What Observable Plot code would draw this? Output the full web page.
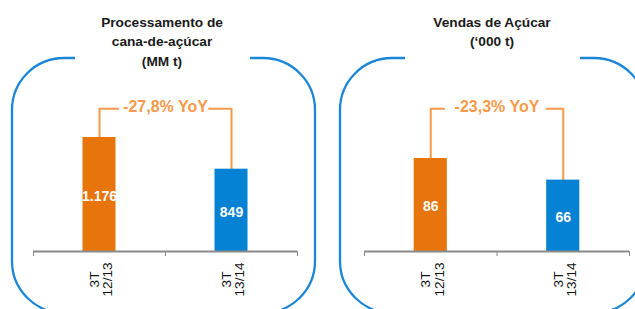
<!DOCTYPE html>
<html>
<head>
<meta charset="utf-8">
<script src="https://cdn.jsdelivr.net/npm/d3@7"></script>
<script src="https://cdn.jsdelivr.net/npm/@observablehq/plot@0.6"></script>
<style>
  html, body { margin: 0; padding: 0; background: #fff; }
  #root { position: relative; width: 635px; height: 309px; overflow: hidden; background: #fff;
          font-family: "Liberation Sans", Arial, sans-serif; }
  .title { position: absolute; width: 260px; text-align: center; font-weight: bold;
           font-size: 13.7px; line-height: 19.5px; color: #1a1a1a; }
</style>
</head>
<body>
<div id="root"></div>
<script>
// ---- data ----
const periods = ["3T\n12/13", "3T\n13/14"];
const canaTitle = ["Processamento de", "cana-de-açúcar", "(MM t)"];
const canaValues = [1176, 849];
const canaLabels = ["1.176", "849"];
const canaChange = "-27,8% YoY";
const acucarTitle = ["Vendas de Açúcar", "(‘000 t)"];
const acucarValues = [86, 66];
const acucarLabels = ["86", "66"];
const acucarChange = "-23,3% YoY";

// ---- styles ----
const barColors = ["#E8740C", "#0582D3"];
const bracketColor = "#F7994A";
const frameColor = "#1A86D8";
const axisColor = "#8A8A8A";
const font = "Liberation Sans, Arial, sans-serif";

const root = document.getElementById("root");

// decorative rounded frames
const ns = "http://www.w3.org/2000/svg";
const fsvg = document.createElementNS(ns, "svg");
fsvg.setAttribute("width", 635); fsvg.setAttribute("height", 309);
fsvg.style.position = "absolute"; fsvg.style.left = "0"; fsvg.style.top = "0";
function framePath(x0, x1, top, bottom, r, gap0, gap1) {
  return `M${gap1},${top} H${x1 - r} A${r},${r} 0 0 1 ${x1},${top + r} V${bottom - r} A${r},${r} 0 0 1 ${x1 - r},${bottom} H${x0 + r} A${r},${r} 0 0 1 ${x0},${bottom - r} V${top + r} A${r},${r} 0 0 1 ${x0 + r},${top} H${gap0}`;
}
for (const d of [framePath(12, 315, 58, 313, 52, 75, 250), framePath(340, 646, 58, 313, 52, 405, 580)]) {
  const p = document.createElementNS(ns, "path");
  p.setAttribute("d", d); p.setAttribute("fill", "none");
  p.setAttribute("stroke", frameColor); p.setAttribute("stroke-width", 2.3);
  fsvg.appendChild(p);
}
root.appendChild(fsvg);

function panel({values, labels, change, left, width, marginLeft, marginRight, yMax, halo}) {
  const table = periods.map((p, i) => ({i, period: p, value: values[i], label: labels[i]}));
  const L = yMax * 0.748;
  const bracket = [
    {x: 0, y: values[0]}, {x: 0, y: L}, {x: 1, y: L}, {x: 1, y: values[1]}
  ];
  const chart = Plot.plot({
    width, height: 309,
    marginLeft, marginRight, marginTop: 60, marginBottom: 58,
    style: {background: "transparent", overflow: "visible", fontFamily: font},
    x: {type: "linear", domain: [-0.5, 1.5]},
    y: {domain: [0, yMax], axis: null},
    marks: [
      Plot.line(bracket, {x: "x", y: "y", stroke: bracketColor, strokeWidth: 2}),
      Plot.rectY(table, {x1: d => d.i - 0.125, x2: d => d.i + 0.125, y: "value",
                         fill: d => barColors[d.i]}),
      Plot.text([change], {x: 0.5, y: L, text: d => d, fill: bracketColor, stroke: "white",
                           strokeWidth: halo, fontSize: 16, fontWeight: "bold", dy: -1.5}),
      Plot.text(table, {x: "i", y: d => d.value / 2, text: "label", fill: "white",
                        fontSize: 14, fontWeight: "bold", dy: 2}),
      Plot.ruleY([0], {stroke: axisColor, strokeWidth: 2}),
      Plot.axisX({ticks: [-0.5, 0.5, 1.5], tickSize: 5, tickFormat: () => "", stroke: axisColor}),
      Plot.text(table, {x: "i", y: 0, text: "period", rotate: -90, textAnchor: "middle",
                        dy: 28, dx: 2, fontSize: 13.5, lineHeight: 0.98, fill: "#111"})
    ]
  });
  chart.style.position = "absolute";
  chart.style.left = left + "px";
  chart.style.top = "0px";
  root.appendChild(chart);
}

panel({values: canaValues, labels: canaLabels, change: canaChange,
       left: 0, width: 320, marginLeft: 33, marginRight: 23, yMax: 1970, halo: 9});
panel({values: acucarValues, labels: acucarLabels, change: acucarChange,
       left: 320, width: 315, marginLeft: 44, marginRight: 6, yMax: 176.6, halo: 20});

function title(lines, cx) {
  const d = document.createElement("div");
  d.className = "title";
  d.style.left = (cx - 130) + "px";
  d.style.top = "12.5px";
  d.innerHTML = lines.map(s => s.replace(/&/g, "&amp;").replace(/</g, "&lt;")).join("<br>");
  root.appendChild(d);
}
title(canaTitle, 162);
title(acucarTitle, 492);
</script>
</body>
</html>
